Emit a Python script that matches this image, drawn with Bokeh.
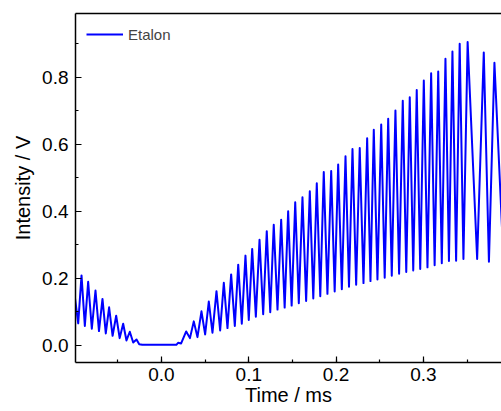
from bokeh.plotting import figure
from bokeh.models import Range1d, LinearAxis, FixedTicker, SingleIntervalTicker, NumeralTickFormatter
from bokeh.embed import file_html
from bokeh.resources import INLINE

# ---- data (time in ms, intensity in V) ----
# decaying fringes before the turning point
left_peak_t = [-0.0916, -0.0840, -0.0756, -0.0676, -0.0600, -0.0519, -0.0439, -0.0363, -0.0286]
left_peak_v = [0.209, 0.190, 0.164, 0.139, 0.114, 0.089, 0.065, 0.041, 0.018]
left_trough_t = [-0.0990, -0.0954, -0.0878, -0.0798, -0.0716, -0.0638, -0.0560, -0.0479, -0.0401, -0.0324]
left_trough_v = [0.140, 0.066, 0.058, 0.050, 0.043, 0.036, 0.029, 0.022, 0.015, 0.009]

# quiet region around t = 0
flat_t = [-0.0255, -0.0220, 0.0000, 0.0170, 0.0190, 0.0225]
flat_v = [0.004, 0.002, 0.002, 0.002, 0.008, 0.006]

# growing fringes after the turning point
right_peak_t = [0.0283, 0.0370, 0.0458, 0.0542, 0.0630, 0.0714, 0.0798, 0.0879, 0.0962,
                0.1039, 0.1123, 0.1206, 0.1286, 0.1371, 0.1451, 0.1532, 0.1615, 0.1699,
                0.1779, 0.1859, 0.1944, 0.2024, 0.2108, 0.2188, 0.2271, 0.2356, 0.2432,
                0.2517, 0.2597, 0.2680, 0.2764, 0.2844, 0.2924, 0.3005, 0.3089, 0.3170,
                0.3253, 0.3333, 0.3416, 0.3507, 0.3692, 0.3814]
right_peak_v = [0.042, 0.072, 0.102, 0.131, 0.162, 0.187, 0.212, 0.241, 0.268,
                0.288, 0.315, 0.341, 0.360, 0.375, 0.400, 0.427, 0.442, 0.460,
                0.484, 0.517, 0.520, 0.540, 0.564, 0.586, 0.589, 0.618, 0.643,
                0.659, 0.676, 0.701, 0.730, 0.740, 0.762, 0.790, 0.812, 0.817,
                0.855, 0.877, 0.900, 0.905, 0.874, 0.843]
right_trough_t = [0.0326, 0.0412, 0.0500, 0.0584, 0.0672, 0.0756, 0.0840, 0.0920, 0.1000,
                  0.1081, 0.1165, 0.1246, 0.1329, 0.1411, 0.1491, 0.1573, 0.1657, 0.1739,
                  0.1819, 0.1901, 0.1984, 0.2066, 0.2148, 0.2230, 0.2314, 0.2394, 0.2474,
                  0.2557, 0.2638, 0.2722, 0.2804, 0.2884, 0.2964, 0.3047, 0.3129, 0.3211,
                  0.3293, 0.3375, 0.3459, 0.3616, 0.3751, 0.3920]
right_trough_v = [0.022, 0.025, 0.033, 0.038, 0.045, 0.052, 0.058, 0.065, 0.076,
                  0.086, 0.093, 0.099, 0.107, 0.113, 0.119, 0.126, 0.133, 0.140,
                  0.147, 0.154, 0.161, 0.168, 0.175, 0.181, 0.186, 0.192, 0.197,
                  0.202, 0.208, 0.214, 0.219, 0.224, 0.228, 0.233, 0.239, 0.245,
                  0.252, 0.253, 0.258, 0.258, 0.250, 0.242]

pts = sorted(zip(left_peak_t + left_trough_t + flat_t + right_peak_t + right_trough_t,
                 left_peak_v + left_trough_v + flat_v + right_peak_v + right_trough_v))
t = [a for a, b in pts]
v = [b for a, b in pts]

FONT = "Liberation Sans"

p = figure(width=501, height=411, output_backend="svg", toolbar_location=None,
           x_range=Range1d(-0.0985, 0.3895), y_range=Range1d(-0.0507, 0.990),
           min_border_left=75, min_border_right=0, min_border_top=13, min_border_bottom=49)
p.background_fill_color = "white"
p.border_fill_color = "white"
p.outline_line_color = None
p.xgrid.visible = False
p.ygrid.visible = False

p.line(t, v, line_color="#0000FF", line_width=2, line_join="round", legend_label="Etalon")

for ax in (p.xaxis[0], p.yaxis[0]):
    ax.axis_line_color = "black"
    ax.axis_line_width = 1.5
    ax.major_tick_in = 6
    ax.major_tick_out = 0
    ax.minor_tick_in = 3
    ax.minor_tick_out = 0
    ax.major_tick_line_color = "black"
    ax.minor_tick_line_color = "black"
    ax.major_tick_line_width = 1.2
    ax.minor_tick_line_width = 1.2
    ax.major_label_text_font = FONT
    ax.major_label_text_font_size = "19px"
    ax.major_label_text_color = "black"
    ax.axis_label_text_font = FONT
    ax.axis_label_text_font_size = "20px"
    ax.axis_label_text_font_style = "normal"
    ax.axis_label_text_color = "black"
    ax.formatter = NumeralTickFormatter(format="0.0")

p.xaxis.ticker = SingleIntervalTicker(interval=0.1, num_minor_ticks=2)
p.yaxis.ticker = SingleIntervalTicker(interval=0.2, num_minor_ticks=2)
p.xaxis.axis_label = "Time / ms"
p.yaxis.axis_label = "Intensity / V"
p.xaxis.major_label_standoff = 5
p.xaxis.axis_label_standoff = 0
p.yaxis.major_label_standoff = 7
p.yaxis.axis_label_standoff = 5

top = LinearAxis(ticker=FixedTicker(ticks=[]), axis_line_color="black", axis_line_width=1.5,
                 major_tick_line_color=None, minor_tick_line_color=None,
                 major_label_text_font_size="0px", major_label_standoff=0)
p.add_layout(top, "above")

lg = p.legend[0]
lg.location = "top_left"
lg.border_line_color = None
lg.background_fill_alpha = 0
lg.margin = 11
lg.padding = 5
lg.glyph_width = 37
lg.label_standoff = 5
lg.label_text_font = FONT
lg.label_text_font_size = "15px"

open("out.html", "w").write(file_html(p, INLINE))
